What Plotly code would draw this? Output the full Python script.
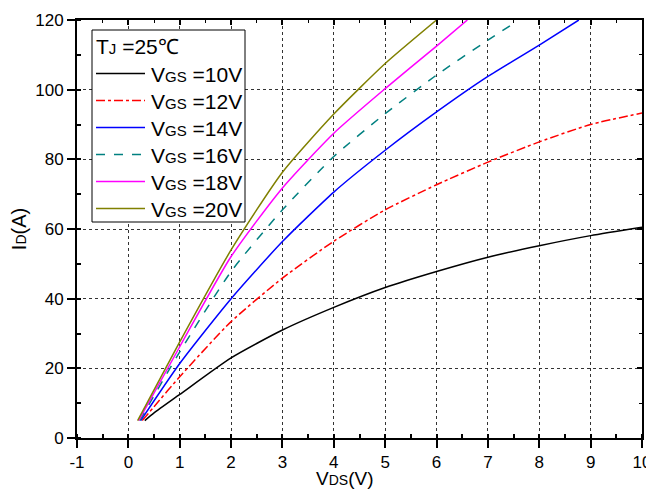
import plotly.graph_objects as go

# ---- data ----
vgs_labels = ["10", "12", "14", "16", "18", "20"]

vds_10 = [0.32, 0.5, 1, 2, 3, 4, 5, 6, 7, 8, 9, 10]
id_10 = [5, 7.2, 12.5, 23.0, 31.0, 37.5, 43.2, 47.8, 51.9, 55.2, 58.1, 60.5]

vds_12 = [0.27, 0.5, 1, 2, 3, 4, 5, 6, 7, 8, 9, 10]
id_12 = [5, 9.0, 17.6, 33.4, 45.9, 56.5, 65.5, 72.7, 79.2, 85.0, 90.0, 93.3]

vds_14 = [0.24, 1, 2, 3, 4, 5, 6, 7, 8, 8.77]
id_14 = [5, 21.4, 40.0, 56.4, 70.6, 82.6, 93.6, 103.8, 112.8, 120]

vds_16 = [0.22, 1, 2, 3, 4, 5, 6, 7, 7.5]
id_16 = [5, 24.7, 47.8, 65.5, 80.8, 93.1, 104.2, 114.2, 119]

vds_18 = [0.2, 1, 2, 3, 4, 5, 6, 6.6]
id_18 = [5, 26.2, 52.1, 71.8, 87.5, 100.3, 112.5, 120]

vds_20 = [0.18, 1, 2, 3, 4, 5, 6]
id_20 = [5, 27.6, 54.0, 76.3, 93.0, 107.5, 120]

x_ticks = list(range(-1, 11))
y_ticks = list(range(0, 121, 20))

series = [
    (vds_10, id_10, "#000000", "solid"),
    (vds_12, id_12, "#ff0000", "dashdot"),
    (vds_14, id_14, "#0000ff", "solid"),
    (vds_16, id_16, "#008080", "dash"),
    (vds_18, id_18, "#ff00ff", "solid"),
    (vds_20, id_20, "#808000", "solid"),
]

FONT = "Liberation Sans, Arial, sans-serif"
OFF = 8  # default page body margin
W, H = 654 - OFF, 490 - OFF
ML, MR, MT, MB = 77 - OFF, 12, 20 - OFF, 52
PW, PH = W - ML - MR, H - MT - MB


def px(xp):  # page pixel -> paper x
    return (xp - OFF - ML) / PW


def py(yp):  # page pixel -> paper y
    return (H - MB - (yp - OFF)) / PH


fig = go.Figure()
for lab, (xs, ys, col, dash) in zip(vgs_labels, series):
    fig.add_trace(go.Scatter(
        x=xs, y=ys, mode="lines",
        line=dict(color=col, width=1.5, dash=dash, shape="spline", smoothing=0.6),
        name="VGS =" + lab + "V", showlegend=False,
    ))

# invisible trace to carry mirrored axes with inside ticks
fig.add_trace(go.Scatter(x=[-1, 10], y=[0, 120], xaxis="x2", yaxis="y2",
                         mode="lines", line=dict(width=0), showlegend=False,
                         hoverinfo="skip"))

axis_common = dict(
    showline=True, linecolor="black", linewidth=2,
    showgrid=True, gridcolor="#333333", gridwidth=1, griddash="dot",
    zeroline=False, automargin=False,
    ticks="outside", ticklen=8, tickwidth=2, tickcolor="black",
    tickfont=dict(family=FONT, size=17, color="black"),
)

shapes = []
annotations = []
# manual legend box
shapes.append(dict(type="rect", xref="paper", yref="paper",
                   x0=px(92), x1=px(245), y0=py(222), y1=py(30),
                   line=dict(color="black", width=1), fillcolor="white", layer="above"))
annotations.append(dict(xref="paper", yref="paper", x=px(94), y=py(46),
                        xanchor="left", yanchor="middle", showarrow=False,
                        text="T<span style='font-size:15px'>J</span> =25℃",
                        font=dict(family=FONT, size=21, color="black")))
for k, (lab, (xs, ys, col, dash)) in enumerate(zip(vgs_labels, series)):
    yrow = 73.5 + 27 * k
    shapes.append(dict(type="line", xref="paper", yref="paper",
                       x0=px(96), x1=px(145), y0=py(yrow), y1=py(yrow),
                       line=dict(color=col, width=1.5, dash=dash), layer="above"))
    annotations.append(dict(xref="paper", yref="paper", x=px(149), y=py(yrow + 1),
                            xanchor="left", yanchor="middle", showarrow=False,
                            text="V<span style='font-size:15px'>GS</span> =" + lab + "V",
                            font=dict(family=FONT, size=21, color="black")))

# x-axis title as annotation (placed just below the tick labels)
annotations.append(dict(xref="paper", yref="paper", x=px(344), y=py(466),
                        xanchor="center", yanchor="top", showarrow=False,
                        text="V<span style='font-size:14px'>DS</span>(V)",
                        font=dict(family=FONT, size=19, color="black")))

fig.update_layout(
    width=W, height=H,
    margin=dict(l=ML, r=MR, t=MT, b=MB),
    paper_bgcolor="white", plot_bgcolor="white",
    font=dict(family=FONT, color="black"),
    xaxis=dict(
        range=[-1, 10], tickvals=x_ticks, ticktext=[str(v) for v in x_ticks],
        minor=dict(dtick=0.5, tick0=0, ticks="inside", ticklen=4, tickwidth=1.5, tickcolor="black", showgrid=False),
        **axis_common,
    ),
    yaxis=dict(
        range=[0, 120], tickvals=y_ticks, ticktext=[str(v) for v in y_ticks],
        minor=dict(dtick=10, tick0=0, ticks="inside", ticklen=4, tickwidth=1.5, tickcolor="black", showgrid=False),
        title=dict(text="I<span style='font-size:14px'>D</span>(A)", font=dict(family=FONT, size=20), standoff=9),
        **axis_common,
    ),
    xaxis2=dict(
        overlaying="x", side="top", range=[-1, 10], tickvals=x_ticks,
        showticklabels=False, showline=True, linecolor="black", linewidth=2,
        showgrid=False, zeroline=False, ticks="inside", ticklen=5, tickwidth=1.5, tickcolor="black",
        minor=dict(dtick=0.5, tick0=0, ticks="inside", ticklen=3, tickwidth=1, tickcolor="black"),
    ),
    yaxis2=dict(
        overlaying="y", side="right", range=[0, 120], tickvals=y_ticks,
        showticklabels=False, showline=True, linecolor="black", linewidth=2,
        showgrid=False, zeroline=False, ticks="inside", ticklen=5, tickwidth=1.5, tickcolor="black",
        minor=dict(dtick=10, tick0=0, ticks="inside", ticklen=3, tickwidth=1, tickcolor="black"),
    ),
    shapes=shapes,
    annotations=annotations,
    showlegend=False,
)

fig.write_html("out.html")
